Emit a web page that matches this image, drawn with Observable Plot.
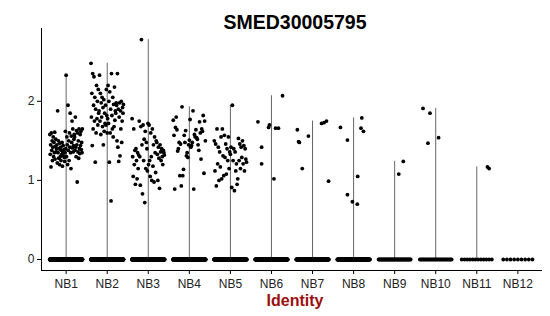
<!DOCTYPE html>
<html><head><meta charset="utf-8">
<script src="https://cdn.jsdelivr.net/npm/d3@7"></script>
<script src="https://cdn.jsdelivr.net/npm/@observablehq/plot@0.6"></script>
<style>body{margin:0;background:#fff}</style>
</head><body><div id="chart"></div>
<script>
const title = "SMED30005795";
const xLabel = "Identity";
const categories = ["NB1","NB2","NB3","NB4","NB5","NB6","NB7","NB8","NB9","NB10","NB11","NB12"];
const yTicks = [0, 1, 2];

// non-zero expression values, listed roughly left-to-right within each group
const NB1 = [1.58,1.33,1.45,1.17,1.60,1.38,1.50,1.25,1.42,1.55,1.30,1.48,1.35,1.61,1.27,1.43,1.52,1.36,1.40,
  1.45,1.22,1.88,1.35,1.50,1.28,1.40,1.20,1.47,1.30,1.42,1.25,1.38,1.33,1.48,1.18,1.36,1.44,1.31,1.39,1.29,1.24,1.35,
  1.62,1.40,2.33,1.30,1.55,1.45,1.20,1.95,1.38,1.50,1.25,1.60,1.42,1.85,1.35,1.15,1.56,1.48,1.75,1.41,1.65,1.36,1.44,1.52,1.58,
  1.55,1.38,1.80,1.42,1.30,1.63,1.45,0.98,1.60,1.36,1.50,1.28,1.65,1.40,1.34,1.58,1.44,1.62,1.39,1.48,1.35,1.65];
const NB2 = [2.48,1.80,2.10,1.44,2.35,1.65,1.95,2.31,1.75,2.05,1.23,1.90,1.60,2.20,1.78,2.00,1.70,2.15,1.85,1.88,
  2.33,1.75,2.10,1.58,1.98,1.80,2.05,1.68,1.92,1.45,2.02,1.62,1.85,1.72,1.95,1.70,2.15,1.82,1.60,1.78,
  2.20,1.72,2.00,1.23,2.12,1.60,1.90,0.74,2.35,1.82,1.65,2.05,1.55,1.96,1.68,2.18,1.76,1.88,1.85,1.98,
  1.95,1.50,2.35,1.42,1.90,1.24,1.80,1.98,1.31,1.88,1.65,2.00,1.48,1.75,1.92,1.85,1.96];
const NB3 = [1.78,1.30,1.05,1.65,1.20,1.38,0.95,1.40,1.25,1.02,1.35,1.15,1.32,
  1.75,1.30,0.94,1.68,2.78,1.45,0.83,1.70,1.25,1.52,0.72,1.62,1.15,1.48,1.40,1.12,1.72,1.20,
  1.70,1.25,1.05,1.60,1.30,1.00,1.65,1.18,1.45,0.98,1.55,1.35,1.10,1.50,
  1.48,1.33,1.00,1.42,1.28,0.90,1.45,1.36,1.25,1.40,1.30,1.20,1.38,1.35,1.32];
const NB4 = [1.76,1.57,0.89,1.67,1.80,1.64,1.37,1.40,1.48,1.06,1.46,0.93,1.93,1.06,1.14,1.57,1.48,1.63,1.31,1.35,
  1.29,1.45,1.51,1.77,1.42,1.44,1.48,1.88,0.89,1.58,1.55,1.64,1.54,1.52,1.45,1.38,1.74,1.60,1.27,1.65,1.62,1.82,1.09,1.75,1.50];
const NB5 = [1.50,1.12,1.46,0.93,1.65,1.21,1.42,1.00,1.36,1.17,1.55,1.02,
  1.65,1.31,1.06,1.57,1.29,1.46,1.08,1.40,1.25,1.55,1.15,1.36,1.33,
  1.42,0.91,1.95,1.25,1.40,0.87,1.36,1.12,1.21,0.95,1.02,
  1.53,1.25,1.46,1.15,1.42,1.29,1.50,1.21,1.44,1.12,1.40,1.27,1.23];
const NB6 = [1.74,1.42,1.21,1.67,1.70,1.02,1.66,1.66,2.07];
const NB7 = [1.64,1.49,1.48,1.15,1.56,1.72,1.73,1.75,0.99];
const NB8 = [1.67,0.82,1.51,0.73,0.70,1.05,1.66,1.79,1.62];
const NB9 = [1.08,1.24];
const NB10 = [1.91,1.47,1.85,1.54];
const NB11 = [1.17,1.15];
const NB12 = [];
// number of cells with zero expression per group
const zeroCounts = [360,320,260,260,260,160,140,140,45,30,12,9];
// observed horizontal jitter (fraction of a category step) for the sparse groups
const jitterNB6 = [-0.33,-0.24,-0.24,-0.07,-0.05,0.06,0.10,0.17,0.27];
const jitterNB7 = [-0.37,-0.34,-0.32,-0.25,-0.10,0.22,0.28,0.34,0.39];
const jitterNB8 = [-0.32,-0.15,-0.15,-0.03,0.09,0.10,0.18,0.20,0.24];
const jitterNB9 = [0.10,0.21];
const jitterNB10 = [-0.31,-0.19,-0.14,0.07];
const jitterNB11 = [0.26,0.30];

const groups = [NB1,NB2,NB3,NB4,NB5,NB6,NB7,NB8,NB9,NB10,NB11,NB12];
const sparseJitter = {NB6: jitterNB6, NB7: jitterNB7, NB8: jitterNB8, NB9: jitterNB9, NB10: jitterNB10, NB11: jitterNB11};

const points = [];
const violins = [];
groups.forEach((vals, g) => {
  const name = categories[g];
  const n = vals.length;
  const jit = sparseJitter[name];
  vals.forEach((v, i) => {
    const j = jit ? jit[i] : -0.4 + 0.8 * (i + 0.5) / n;
    points.push({x: g + j, y: v});
  });
  const z = zeroCounts[g];
  for (let i = 0; i < z; i++) points.push({x: g - 0.4 + 0.8 * (i + 0.5) / z, y: 0});
  if (n > 0) violins.push({x: g, y1: 0, y2: d3.max(vals)});
});

const plot = Plot.plot({
  width: 550, height: 316,
  marginLeft: 41, marginRight: 8, marginTop: 28, marginBottom: 46,
  x: {domain: [-0.6, 11.6], axis: null},
  y: {domain: [-0.139, 2.92], axis: null},
  style: {fontFamily: "'Liberation Sans', Arial, sans-serif", background: "#fff"},
  marks: [
    Plot.ruleX(violins, {x: "x", y1: "y1", y2: "y2", stroke: "#666", strokeWidth: 1}),
    Plot.dot(points, {x: "x", y: "y", r: 1.9, fill: "black", stroke: "none"}),
    Plot.axisY(yTicks, {tickSize: 4, tickPadding: 3, tickFormat: d3.format("d"), fontSize: 12, fill: "#222", stroke: "black", label: null}),
    Plot.axisX(d3.range(categories.length), {tickSize: 4, tickPadding: 5, tickFormat: i => categories[i], fontSize: 12, fill: "#222", stroke: "black", label: null}),
    Plot.ruleX([-0.6], {stroke: "black"}),
    Plot.ruleY([-0.139], {stroke: "black"}),
    Plot.text([title], {frameAnchor: "top", dy: -13, dx: 3, fontSize: 19.5, fontWeight: "bold", fill: "black"}),
    Plot.text([xLabel], {frameAnchor: "bottom", dy: 35, dx: 3, fontSize: 16, fontWeight: "bold", fill: "#9b0f0f"})
  ]
});
document.getElementById("chart").appendChild(plot);
</script>
</body></html>
